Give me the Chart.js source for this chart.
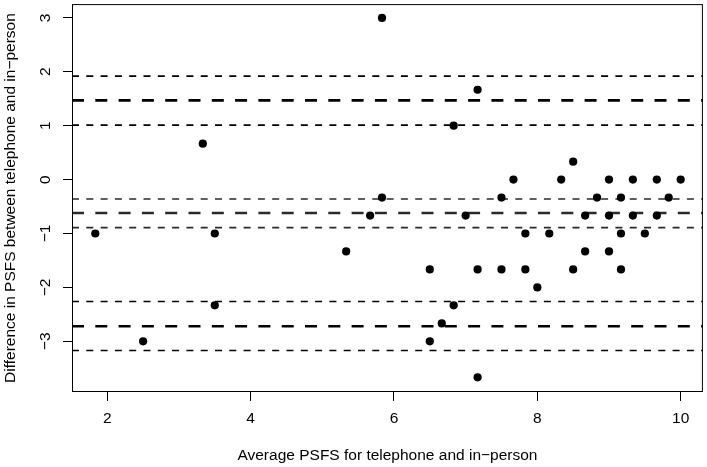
<!DOCTYPE html>
<html>
<head>
<meta charset="utf-8">
<script src="https://cdn.jsdelivr.net/npm/chart.js@4/dist/chart.umd.min.js"></script>
<style>
  body { margin: 0; background: #fff; }
</style>
</head>
<body>
<canvas id="ba-chart" width="707" height="467"></canvas>
<script>
// Bland-Altman : moyenne vs différence des scores PSFS (téléphone / en personne)

// Points : moyenne PSFS (x) et différence (y)
const avgPsfs = [
    1.833, 2.5, 3.333, 3.5, 3.5, 5.333, 5.667, 5.833, 5.833, 6.833,
    7.167, 7.0, 7.5, 7.667, 7.833, 8.167, 8.333, 8.5, 8.667, 8.833,
    9.0, 9.0, 9.167, 9.167, 9.333, 9.333, 9.5, 9.667, 9.667, 9.833,
    10.0, 6.5, 7.167, 7.5, 7.833, 8.0, 8.5, 8.667, 9.0, 9.167,
    6.833, 6.667, 6.5, 7.167
];
const diffPsfs = [
    -1, -3, 0.667, -1, -2.333, -1.333, -0.667, -0.333, 3, 1,
    1.667, -0.667, -0.333, 0, -1, -1, 0, 0.333, -0.667, -0.333,
    0, -0.667, -0.333, -1, 0, -0.667, -1, 0, -0.667, -0.333,
    0, -1.667, -1.667, -1.667, -1.667, -2, -1.667, -1.333, -1.333, -1.667,
    -2.333, -2.667, -3, -3.667
];

// Lignes de référence : biais moyen, limites d'agrément et leurs IC
const meanLines = [1.47, -0.62, -2.72];
const ciLines = [1.92, 1.01, -0.36, -0.89, -2.26, -3.17];

// Axes
const xTicks = [2, 4, 6, 8, 10];
const yTicks = [-3, -2, -1, 0, 1, 2, 3];
const xRange = [1.508, 10.31];
const yRange = [-3.94, 3.256];

const FONT = 'Liberation Sans, Arial, Helvetica, sans-serif';
const FONT_SIZE = 15.5;

function fmtTick(v) {
    return v < 0 ? '\u2212' + Math.abs(v) : String(v);
}

function hLine(v, thick) {
    const middle = v > -1 && v < 0;
    return {
        data: [{ x: xRange[0], y: v }, { x: xRange[1], y: v }],
        showLine: true,
        borderColor: middle ? '#2a2a2a' : '#000',
        borderWidth: thick ? 2.6 : 1.6,
        borderDash: thick ? [12, 11.3] : [7, 7.3],
        pointRadius: 0,
        order: 1
    };
}

// Cadre + étiquettes verticales de l'axe y (style R)
const rStylePlugin = {
    id: 'rStyle',
    afterDraw(chart) {
        const ctx = chart.ctx;
        const area = chart.chartArea;
        ctx.save();
        ctx.strokeStyle = '#000';
        ctx.lineWidth = 1;
        ctx.strokeRect(area.left + 0.5, area.top + 0.5, area.right - area.left - 1, area.bottom - area.top - 1);

        const yScale = chart.scales.y;
        ctx.fillStyle = '#000';
        ctx.font = FONT_SIZE + 'px ' + FONT;
        ctx.textAlign = 'center';
        ctx.textBaseline = 'middle';
        yScale.ticks.forEach(t => {
            const py = yScale.getPixelForValue(t.value);
            ctx.save();
            ctx.translate(46, py);
            ctx.rotate(-Math.PI / 2);
            ctx.fillText(fmtTick(t.value), 0, 0);
            ctx.restore();
        });
        ctx.restore();
    }
};

const datasets = [];
datasets.push({
    data: avgPsfs.map((x, i) => ({ x: x, y: diffPsfs[i] })),
    backgroundColor: '#000',
    borderWidth: 0,
    pointRadius: 4.1,
    pointHoverRadius: 4.1,
    order: 0
});
meanLines.forEach(v => datasets.push(hLine(v, true)));
ciLines.forEach(v => datasets.push(hLine(v, false)));

const ctx = document.getElementById('ba-chart').getContext('2d');
new Chart(ctx, {
    type: 'scatter',
    data: { datasets: datasets },
    options: {
        responsive: false,
        animation: false,
        layout: { padding: { top: 2, right: 2, left: 0, bottom: 0 } },
        plugins: {
            legend: { display: false },
            tooltip: { enabled: false }
        },
        scales: {
            x: {
                type: 'linear',
                min: xRange[0],
                max: xRange[1],
                afterBuildTicks: s => { s.ticks = xTicks.map(v => ({ value: v })); },
                afterFit: s => { s.height = 75; },
                border: { display: false },
                grid: { drawOnChartArea: false, drawTicks: true, tickLength: 9, color: '#000' },
                ticks: {
                    color: '#000',
                    padding: 8,
                    maxRotation: 0,
                    font: { family: FONT, size: FONT_SIZE },
                    callback: v => fmtTick(v)
                },
                title: {
                    display: true,
                    text: 'Average PSFS for telephone and in\u2212person',
                    color: '#000',
                    font: { family: FONT, size: FONT_SIZE },
                    padding: { top: 0, bottom: 2 }
                }
            },
            y: {
                type: 'linear',
                min: yRange[0],
                max: yRange[1],
                afterBuildTicks: s => { s.ticks = yTicks.map(v => ({ value: v })); },
                afterFit: s => { s.width = 72; },
                border: { display: false },
                grid: { drawOnChartArea: false, drawTicks: true, tickLength: 9, color: '#000' },
                ticks: { display: false },
                title: {
                    display: true,
                    text: 'Difference in PSFS between telephone and in\u2212person',
                    color: '#000',
                    font: { family: FONT, size: FONT_SIZE },
                    padding: { top: 1, bottom: 0 }
                }
            }
        }
    },
    plugins: [rStylePlugin]
});
</script>
</body>
</html>
